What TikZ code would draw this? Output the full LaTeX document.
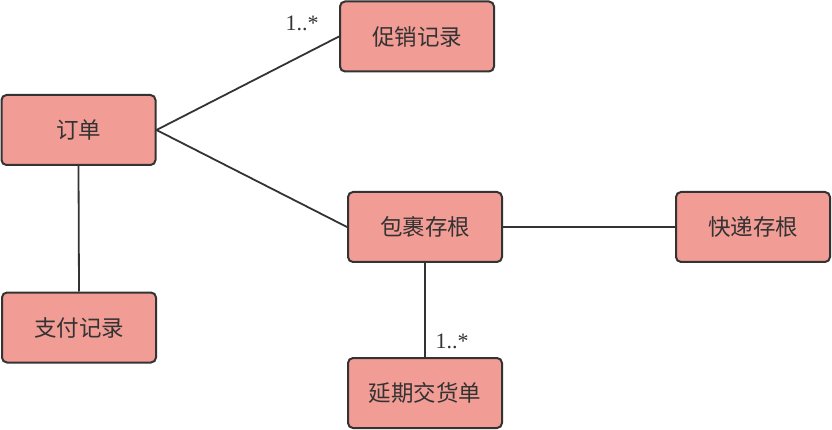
\documentclass[tikz,border=0pt]{standalone}
\usepackage{fontspec}
\setmainfont{Liberation Serif}
\newfontfamily\cjk{Noto Sans CJK SC}
\definecolor{boxfill}{HTML}{F19C94}
\definecolor{edge}{HTML}{333333}
\begin{document}
\begin{tikzpicture}[x=1pt,y=-1pt,
  entity/.style={draw=edge,fill=boxfill,line width=2pt,rounded corners=5pt,
    minimum width=154pt,minimum height=70pt,inner sep=0pt,
    font=\cjk\fontsize{22.5}{26}\selectfont,text=edge},
  link/.style={draw=edge,line width=1.8pt},
  mult/.style={font=\fontsize{22}{24}\selectfont,text=edge,inner sep=0pt}]
\useasboundingbox (0,0) rectangle (832,430);
\node[entity] (dingdan) at (78.5,130) {订单};
\node[entity] (cuxiao) at (417,36.5) {促销记录};
\node[entity] (baoguo) at (425,227) {包裹存根};
\node[entity] (kuaidi) at (753,227) {快递存根};
\node[entity] (zhifu) at (79,327.5) {支付记录};
\node[entity] (yanqi) at (425,393) {延期交货单};
\draw[link] (dingdan.east) -- (cuxiao.west);
\draw[link] (dingdan.east) -- (baoguo.west);
\draw[link] (dingdan.south) -- (zhifu.north);
\draw[link] (baoguo.east) -- (kuaidi.west);
\draw[link] (baoguo.south) -- (yanqi.north);
\node[mult] (m1) at (302,23) {1..*};
\node[mult] (m2) at (452,341) {1..*};
\end{tikzpicture}
\end{document}
